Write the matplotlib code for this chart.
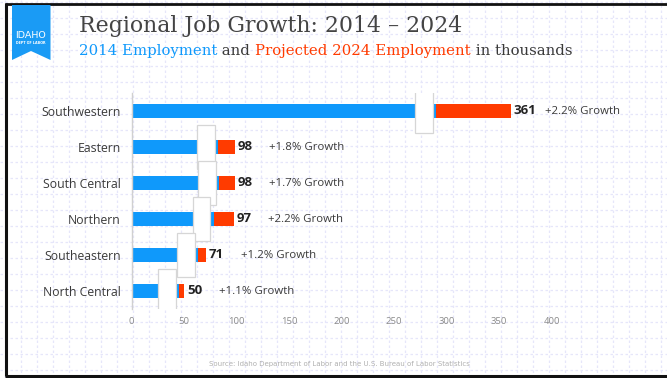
import matplotlib
matplotlib.use("Agg")
import matplotlib.pyplot as plt
from matplotlib.patches import Rectangle, Polygon

# Regional employment, thousands of jobs
regions = ["Southwestern", "Eastern", "South Central", "Northern",
           "Southeastern", "North Central"]
jobs_2014 = [290, 82, 83, 78, 63, 45]
jobs_2024 = [361, 98, 98, 97, 71, 50]
growth_labels = ["+2.2% Growth", "+1.8% Growth", "+1.7% Growth",
                 "+2.2% Growth", "+1.2% Growth", "+1.1% Growth"]
x_ticks = [0, 50, 100, 150, 200, 250, 300, 350, 400]

BLUE = "#0f99fb"
RED = "#ff3b00"
TEXT = "#3a3a3a"

W, H = 667, 378
fig = plt.figure(figsize=(W / 100, H / 100), dpi=100)
fig.patch.set_facecolor("white")

# Background layer in pixel coordinates: graph-paper grid, frame, logo
bg = fig.add_axes([0, 0, 1, 1], zorder=0)
bg.set_xlim(0, W)
bg.set_ylim(H, 0)
bg.axis("off")
gx = 4.7
while gx < W:
    bg.plot([gx, gx], [0, H], color="#e6e6fa", lw=0.9, ls=(0, (2, 2)), zorder=1)
    gx += 16
gy = 2
while gy < H:
    bg.plot([0, W], [gy, gy], color="#e6e6fa", lw=0.9, ls=(0, (2, 2)), zorder=1)
    gy += 16
bg.plot([5.8, 5.8], [3, 376], color="#111111", lw=2.2, solid_capstyle="butt", zorder=5)
bg.plot([4.5, W], [3.6, 3.6], color="#111111", lw=2.0, solid_capstyle="butt", zorder=5)
bg.plot([4.5, W], [375.8, 375.8], color="#111111", lw=2.2, solid_capstyle="butt", zorder=5)

bg.add_patch(Polygon([(12, 5), (50.5, 5), (50.5, 60), (31, 51), (12, 60)],
                     closed=True, facecolor="#1a9bf5", edgecolor="none", zorder=6))
bg.text(31, 35, "IDAHO", color="white", fontsize=6.8, ha="center",
        va="center", family="DejaVu Sans", zorder=7)
bg.text(31, 43, "DEPT OF LABOR", color="white", fontsize=2.4, ha="center",
        va="center", fontweight="bold", zorder=7)

bg.text(79, 26, "Regional Job Growth: 2014 \u2013 2024", color="#444444",
        fontsize=15.8, family="DejaVu Serif", va="center", ha="left", zorder=7)

sub_parts = [("2014 Employment", BLUE), (" and ", TEXT),
             ("Projected 2024 Employment", RED), (" in thousands", TEXT)]
renderer = fig.canvas.get_renderer()
sx = 79
for txt, col in sub_parts:
    t = bg.text(sx, 51, txt, color=col, fontsize=10.7, family="DejaVu Serif",
                va="center", ha="left", zorder=7)
    bb = t.get_window_extent(renderer=renderer)
    sx += bb.width

bg.text(339, 364, "Source: Idaho Department of Labor and the U.S. Bureau of Labor Statistics",
        color="#b0b0b0", fontsize=5, ha="center", va="center", zorder=7)

# Chart
ax = fig.add_axes([131.7 / W, 1 - 309 / H, (440 * 1.05) / W, 216 / H], zorder=2)
ax.patch.set_alpha(0)
ax.set_xlim(0, 440)
ax.set_ylim(5.5, -0.5)

bar_h = 0.39
box_w = 17
box_h = 1.22
for i, (a, b) in enumerate(zip(jobs_2014, jobs_2024)):
    ax.barh(i, a, height=bar_h, color=BLUE, zorder=2)
    ax.barh(i, b - a, left=a, height=bar_h, color=RED, zorder=2)
    ax.add_patch(Rectangle((a - 3 - box_w, i - box_h / 2), box_w, box_h,
                           facecolor="white", edgecolor="#d6d6d6", lw=0.9,
                           zorder=3 + i))
    ax.text(b + 2.5, i, str(b), fontsize=9.5, fontweight="bold",
            color="#222222", va="center", ha="left", family="Open Sans")
    ax.text(b + 33, i, growth_labels[i], fontsize=8.2, color=TEXT,
            va="center", ha="left", family="Open Sans")

ax.set_yticks(range(len(regions)))
ax.set_yticklabels(regions, fontsize=8.8, color=TEXT, family="Open Sans")
ax.set_xticks(x_ticks)
ax.set_xticklabels([str(v) for v in x_ticks], fontsize=6.8, color="#8a8a8a",
                   family="Open Sans")
ax.tick_params(axis="both", length=0)
ax.tick_params(axis="y", pad=8)
ax.tick_params(axis="x", pad=6)
for s in ["top", "right", "bottom"]:
    ax.spines[s].set_visible(False)
ax.spines["left"].set_color("#d0d0d0")
ax.spines["left"].set_linewidth(1)

fig.savefig("out.png", dpi=100)
